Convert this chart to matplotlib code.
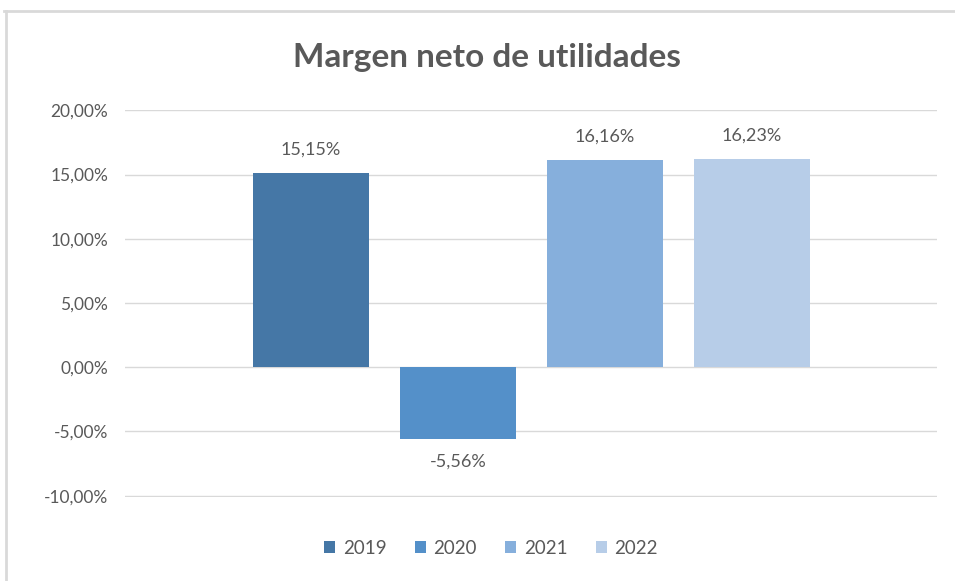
import matplotlib
matplotlib.use("Agg")
import matplotlib.pyplot as plt
from matplotlib.lines import Line2D
from matplotlib.patches import Patch

years = ["2019", "2020", "2021", "2022"]
values = [15.15, -5.56, 16.16, 16.23]
labels = ["15,15%", "-5,56%", "16,16%", "16,23%"]
colors = ["#4577A6", "#5490C9", "#86AFDC", "#B7CDE8"]
yticks = [-10, -5, 0, 5, 10, 15, 20]
yticklabels = ["-10,00%", "-5,00%", "0,00%", "5,00%", "10,00%", "15,00%", "20,00%"]

plt.rcParams['font.family'] = ['Lato', 'DejaVu Sans']
txt = "#595959"

fig = plt.figure(figsize=(9.55, 5.81), dpi=100)
ax = fig.add_axes([125/955, 84/581, 812/955, 387/581])

width = 116/147
for i, (v, c) in enumerate(zip(values, colors)):
    ax.bar(i, v, width=width, color=c, label=years[i], zorder=3)
    if v >= 0:
        ax.text(i, v + 1.2, labels[i], ha='center', va='bottom', fontsize=13, color=txt)
    else:
        ax.text(i, v - 1.2, labels[i], ha='center', va='top', fontsize=13, color=txt)

ax.set_xlim(-1.265, 4.259)
ax.set_ylim(-10.1, 20.03)
ax.set_yticks(yticks)
ax.set_yticklabels(yticklabels, fontsize=12.5, color=txt)
ax.set_xticks([])
ax.tick_params(axis='y', length=0, pad=12)
ax.grid(axis='y', color='#D9D9D9', linewidth=1, zorder=0)
for s in ax.spines.values():
    s.set_visible(False)

fig.text(487/955, 1 - 57/581, "Margen neto de utilidades", ha='center', va='center',
         fontsize=24, fontweight='bold', color=txt)

handles = [Patch(facecolor=c, edgecolor='none') for c in colors]
fig.legend(handles, years, loc='center', bbox_to_anchor=(491/955, 1 - 548/581),
           ncol=4, frameon=False, fontsize=13.5, labelcolor=txt,
           handlelength=0.6, handleheight=0.6, handletextpad=0.4, columnspacing=1.5)

# outer chart border (top and left visible)
fig.add_artist(Line2D([4/955, 1], [1 - 11/581, 1 - 11/581], transform=fig.transFigure,
                      color='#D9D9D9', linewidth=2))
fig.add_artist(Line2D([6/955, 6/955], [0, 1 - 11/581], transform=fig.transFigure,
                      color='#D9D9D9', linewidth=2))

fig.savefig("out.png", dpi=100)
